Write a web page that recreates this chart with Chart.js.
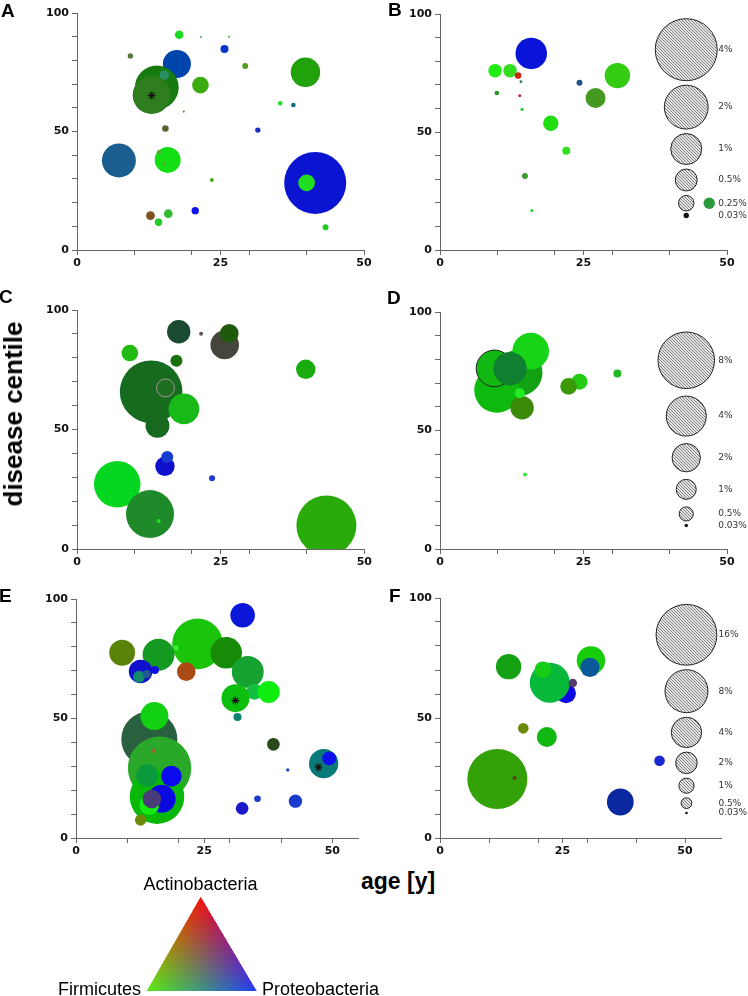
<!DOCTYPE html>
<html>
<head>
<meta charset="utf-8">
<script src="https://cdn.jsdelivr.net/npm/chart.js@4/dist/chart.umd.min.js"></script>
<style>
  body { margin: 0; background: #fff; width: 748px; height: 996px; position: relative; overflow: hidden; font-family: 'Liberation Sans', Arial, sans-serif; }
  canvas { position: absolute; }
  .lbl { position: absolute; line-height: 1; white-space: nowrap; color: #000; }
  .letter { font-weight: bold; font-size: 19px; }
</style>
</head>
<body>
<canvas id="cA" width="374" height="280" style="left:0;top:0"></canvas>
<canvas id="cB" width="374" height="280" style="left:374px;top:0"></canvas>
<canvas id="cC" width="374" height="285" style="left:0;top:290px"></canvas>
<canvas id="cD" width="374" height="285" style="left:374px;top:290px"></canvas>
<canvas id="cE" width="374" height="280" style="left:0;top:580px"></canvas>
<canvas id="cF" width="374" height="280" style="left:374px;top:580px"></canvas>
<canvas id="tri" width="122" height="104" style="left:140px;top:890px"></canvas>

<div class="lbl letter" style="left:1px;top:1px">A</div>
<div class="lbl letter" style="left:388px;top:0">B</div>
<div class="lbl letter" style="left:-1px;top:287px">C</div>
<div class="lbl letter" style="left:387px;top:288px">D</div>
<div class="lbl letter" style="left:-1px;top:586px">E</div>
<div class="lbl letter" style="left:389px;top:586px">F</div>
<div class="lbl" style="left:12.5px;top:414px;font-weight:bold;font-size:26px;transform:translate(-50%,-50%) rotate(-90deg)">disease centile</div>
<div class="lbl" style="left:361px;top:870px;font-weight:bold;font-size:23px">age [y]</div>
<div class="lbl" style="left:200.5px;top:875px;font-size:18px;transform:translateX(-50%)">Actinobacteria</div>
<div class="lbl" style="left:58px;top:980px;font-size:18px">Firmicutes</div>
<div class="lbl" style="left:262px;top:980px;font-size:18px">Proteobacteria</div>

<script>
// tick layout shared by all panels
const xTicks = [0, 10, 20, 25, 30, 40, 50];
const xLabels = [0, 25, 50];
const yLabels = [0, 50, 100];

// rows: [age, disease centile, relative abundance %, Actinobacteria %, Firmicutes %, Proteobacteria %]
const panelA = [
  [17.4, 78.5, 0.82, 0, 27, 67],
  [13.9, 68.6, 2.0, 9, 48, 6],
  [15.2, 73.8, 0.1, 16, 56, 38],
  [13.0, 65.4, 1.5, 18, 49, 12],
  [17.8, 90.8, 0.077, 12, 86, 12],
  [21.6, 89.9, 0.004, 15, 70, 15],
  [26.5, 90.0, 0.004, 20, 70, 10],
  [25.7, 84.8, 0.067, 4, 20, 80],
  [9.3, 81.9, 0.03, 33, 47, 20],
  [29.3, 77.6, 0.037, 33, 60, 13],
  [39.8, 75.0, 0.9, 13, 63, 4],
  [21.5, 69.6, 0.29, 23, 67, 6],
  [18.6, 58.4, 0.005, 47, 47, 13],
  [35.4, 61.9, 0.022, 13, 87, 13],
  [37.7, 61.2, 0.022, 7, 40, 53],
  [31.5, 50.6, 0.03, 7, 20, 73],
  [15.4, 51.3, 0.045, 33, 40, 20],
  [7.3, 37.8, 1.2, 10, 37, 56],
  [15.8, 38.0, 0.7, 7, 88, 7],
  [14.3, 41.2, 0.022, 33, 67, 20],
  [15.2, 36.6, 0.009, 40, 60, 27],
  [23.5, 29.5, 0.017, 33, 67, 13],
  [41.5, 28.3, 4.0, 4, 8, 82],
  [40.0, 28.3, 0.29, 13, 87, 13],
  [12.8, 14.5, 0.08, 48, 33, 13],
  [14.2, 11.7, 0.057, 13, 80, 13],
  [15.9, 15.3, 0.08, 20, 73, 20],
  [20.6, 16.6, 0.057, 7, 7, 93],
  [43.3, 9.6, 0.037, 13, 80, 13]
];
const starsA = [[13.0, 65.2]];

const panelB = [
  [15.9, 83.3, 1.03, 4, 8, 85],
  [9.6, 76.0, 0.19, 13, 93, 7],
  [12.2, 76.0, 0.19, 20, 87, 13],
  [13.6, 73.9, 0.045, 80, 16, 6],
  [14.1, 71.3, 0.009, 20, 53, 40],
  [9.9, 66.5, 0.022, 13, 60, 13],
  [13.9, 65.4, 0.009, 73, 13, 27],
  [14.3, 59.6, 0.012, 20, 80, 20],
  [19.3, 53.7, 0.245, 13, 87, 7],
  [22.0, 42.1, 0.067, 20, 88, 13],
  [14.8, 31.4, 0.037, 27, 60, 20],
  [16.0, 16.7, 0.012, 20, 80, 27],
  [24.3, 70.9, 0.037, 13, 33, 53],
  [27.1, 64.4, 0.42, 27, 60, 13],
  [30.9, 73.9, 0.67, 20, 80, 7]
];
const legendB = [4, 2, 1, 0.5, 0.25, 0.03];

const panelC = [
  [12.9, 65.8, 9.8, 9, 42, 12],
  [15.4, 67.4, 0.81, 12, 43, 12],
  [17.7, 90.9, 1.37, 10, 29, 19],
  [21.6, 90.1, 0.04, 40, 33, 33],
  [25.7, 85.4, 2.04, 27, 27, 23],
  [26.5, 90.2, 0.87, 12, 35, 4],
  [9.2, 82.0, 0.69, 13, 73, 7],
  [17.3, 78.8, 0.36, 10, 44, 4],
  [39.8, 75.2, 0.94, 10, 67, 6],
  [18.6, 58.6, 2.35, 9, 73, 9],
  [14.0, 51.6, 1.44, 9, 41, 12],
  [15.3, 34.6, 0.94, 6, 6, 80],
  [15.7, 38.5, 0.36, 10, 23, 82],
  [23.5, 29.6, 0.09, 10, 23, 80],
  [7.0, 27.1, 5.4, 2, 84, 12],
  [12.7, 14.6, 5.76, 12, 54, 16],
  [14.2, 11.7, 0.04, 13, 87, 13],
  [43.4, 9.8, 9.0, 16, 67, 4]
];

const panelD = [
  [13.8, 74.4, 5.4, 7, 63, 7],
  [15.8, 83.5, 3.36, 9, 83, 9],
  [9.9, 67.0, 5.1, 6, 73, 6],
  [9.5, 76.2, 3.36, 7, 72, 7],
  [12.2, 76.1, 2.8, 6, 50, 19],
  [14.3, 59.6, 1.37, 23, 54, 4],
  [13.9, 65.7, 0.25, 13, 93, 13],
  [24.3, 70.6, 0.64, 13, 80, 7],
  [22.4, 68.6, 0.69, 23, 60, 4],
  [30.9, 74.0, 0.16, 13, 73, 13],
  [14.8, 31.4, 0.04, 20, 93, 20]
];
const legendD = [8, 4, 2, 1, 0.5, 0.03];

const panelE = [
  [23.7, 81.2, 11.1, 10, 77, 4],
  [19.5, 79.5, 0.12, 20, 93, 20],
  [9.0, 77.5, 2.9, 35, 51, 3],
  [16.1, 76.7, 4.4, 8, 60, 13],
  [29.3, 77.5, 4.3, 9, 54, 3],
  [33.5, 69.5, 4.4, 9, 63, 19],
  [34.8, 61.2, 1.1, 7, 75, 25],
  [31.1, 58.5, 3.4, 6, 75, 6],
  [37.6, 61.1, 2.1, 6, 93, 6],
  [31.5, 50.6, 0.28, 6, 50, 44],
  [21.5, 69.6, 1.5, 67, 29, 8],
  [12.6, 69.7, 2.4, 6, 6, 80],
  [12.3, 67.5, 0.62, 7, 54, 42],
  [13.8, 68.6, 0.28, 12, 35, 56],
  [15.4, 70.3, 0.28, 6, 6, 87],
  [32.5, 93.2, 2.6, 4, 9, 85],
  [14.3, 41.3, 13.6, 16, 38, 25],
  [15.3, 51.0, 3.4, 7, 82, 7],
  [16.3, 29.2, 17.4, 16, 66, 16],
  [15.2, 36.5, 0.09, 60, 40, 20],
  [15.8, 17.3, 12.9, 4, 72, 4],
  [13.9, 26.1, 2.1, 4, 60, 23],
  [18.6, 25.9, 1.84, 4, 4, 93],
  [16.7, 16.4, 3.4, 4, 4, 88],
  [14.3, 13.8, 1.7, 7, 93, 7],
  [14.8, 16.3, 1.5, 29, 23, 48],
  [12.6, 7.5, 0.56, 42, 54, 4],
  [38.5, 39.2, 0.69, 16, 29, 10],
  [41.3, 28.5, 0.05, 16, 23, 80],
  [48.3, 31.1, 3.7, 4, 48, 47],
  [49.4, 33.3, 0.85, 6, 6, 93],
  [35.4, 16.4, 0.19, 10, 23, 80],
  [42.8, 15.4, 0.77, 10, 23, 80],
  [32.4, 12.4, 0.69, 10, 10, 80]
];
const starsE = [[31.1, 57.5], [47.3, 29.6]];

const panelF = [
  [14.0, 71.4, 2.8, 8, 63, 8],
  [25.7, 60.3, 1.73, 4, 4, 88],
  [22.4, 64.7, 6.9, 3, 72, 23],
  [21.0, 70.1, 1.2, 9, 80, 9],
  [27.1, 64.6, 0.32, 33, 23, 42],
  [30.8, 74.0, 3.5, 9, 80, 4],
  [30.6, 71.1, 1.6, 4, 35, 60],
  [17.0, 45.7, 0.49, 42, 54, 4],
  [21.8, 42.1, 1.73, 7, 72, 7],
  [11.7, 24.6, 15.6, 20, 63, 3],
  [15.2, 25.0, 0.07, 33, 27, 13],
  [36.8, 15.0, 3.1, 4, 16, 63],
  [44.8, 32.2, 0.49, 10, 16, 82]
];
const legendF = [16, 8, 4, 2, 1, 0.5, 0.03];

function mix(a, f, p) {
  return 'rgb(' + Math.round(a * 2.55) + ',' + Math.round(f * 2.55) + ',' + Math.round(p * 2.55) + ')';
}

function hatch(ctx) {
  const c = document.createElement('canvas');
  c.width = 3; c.height = 3;
  const g = c.getContext('2d');
  g.fillStyle = '#e6e6e6';
  g.fillRect(0, 0, 3, 3);
  g.fillStyle = '#808080';
  for (let i = 0; i < 3; i++) g.fillRect(i, i, 1, 1);
  return ctx.createPattern(c, 'repeat');
}

// hatched size key drawn inside the plot area
const sizeKey = {
  id: 'sizeKey',
  afterDatasetsDraw(chart, args, o) {
    if (!o || !o.levels) return;
    const ctx = chart.ctx;
    const cx = chart.scales.x.getPixelForValue(o.x);
    let y = chart.chartArea.top + o.top;
    ctx.save();
    ctx.font = '9px "DejaVu Sans"';
    ctx.textBaseline = 'middle';
    ctx.fillStyle = '#333';
    const pat = hatch(ctx);
    o.levels.forEach(p => {
      const r = o.k * Math.sqrt(p);
      let cy;
      if (p < 0.1) {
        cy = y - o.gap + 4.5;
        ctx.beginPath();
        ctx.arc(cx, cy, Math.max(r, 1.3), 0, Math.PI * 2);
        ctx.fillStyle = '#111';
        ctx.fill();
      } else {
        cy = y + r;
        ctx.beginPath();
        ctx.arc(cx, cy, r, 0, Math.PI * 2);
        ctx.fillStyle = pat;
        ctx.fill();
        ctx.lineWidth = 1;
        ctx.strokeStyle = '#222';
        ctx.stroke();
        y = cy + r + o.gap;
      }
      if (o.extra && o.extra.at === p) {
        ctx.beginPath();
        ctx.arc(cx + o.extra.dx, cy, o.k * Math.sqrt(o.extra.pct), 0, Math.PI * 2);
        ctx.fillStyle = mix(o.extra.comp[0], o.extra.comp[1], o.extra.comp[2]);
        ctx.fill();
      }
      ctx.fillStyle = '#333';
      ctx.fillText(p + '%', cx + 32, cy);
    });
    ctx.restore();
  }
};
Chart.register(sizeKey);

const tickFont = { family: 'DejaVu Sans', size: 11, weight: 'bold' };

function panel(id, rows, stars, o) {
  return new Chart(document.getElementById(id), {
    type: 'bubble',
    data: {
      datasets: [
        {
          data: stars.map(s => ({ x: s[0], y: s[1], r: 4 })),
          pointStyle: 'star',
          backgroundColor: 'rgba(0,0,0,0)',
          borderColor: '#111',
          borderWidth: 1.2,
          order: 0
        },
        {
          data: rows.map(d => ({ x: d[0], y: d[1], r: o.k * Math.sqrt(d[2]) })),
          backgroundColor: rows.map(d => mix(d[3], d[4], d[5])),
          borderColor: rows.map((d, i) => (o.rings && o.rings[i]) || 'rgba(0,0,0,0)'),
          borderWidth: rows.map((d, i) => (o.rings && o.rings[i]) ? 1 : 0),
          clip: { left: 60, top: 60, right: 60, bottom: 0 },
          order: 1
        }
      ]
    },
    options: {
      responsive: false,
      animation: false,
      events: [],
      layout: { autoPadding: false, padding: { left: 0, top: o.padT, right: o.padR, bottom: 0 } },
      plugins: {
        legend: { display: false },
        tooltip: { enabled: false },
        sizeKey: o.key || false
      },
      scales: {
        x: {
          type: 'linear',
          min: 0,
          max: o.xmax,
          afterBuildTicks: s => { s.ticks = xTicks.map(v => ({ value: v })); },
          afterFit: s => { s.height = o.xH; },
          grid: { drawOnChartArea: false, tickLength: 5, color: '#666' },
          border: { color: '#666' },
          ticks: {
            autoSkip: false, maxRotation: 0, padding: 2, color: '#111', font: tickFont,
            callback: v => xLabels.includes(v) ? v : ''
          }
        },
        y: {
          min: 0,
          max: 100,
          afterFit: s => { s.width = o.yW; },
          grid: { drawOnChartArea: false, tickLength: 5, color: '#666' },
          border: { color: '#666' },
          ticks: {
            stepSize: 10, padding: 3, color: '#111', font: tickFont,
            callback: v => yLabels.includes(v) ? v : ''
          }
        }
      }
    }
  });
}

panel('cA', panelA, starsA, { k: 15.5, xmax: 50, yW: 77, padR: 10, padT: 13, xH: 30 });
panel('cB', panelB, [], {
  k: 15.5, xmax: 50, yW: 66, padR: 21, padT: 14, xH: 30,
  key: { levels: legendB, k: 15.5, x: 42.9, top: 4.7, gap: 4.5, extra: { at: 0.25, dx: 23, pct: 0.135, comp: [16, 60, 23] } }
});
panel('cC', panelC, [], { k: 10, xmax: 50, yW: 77, padR: 8, padT: 20, xH: 26, rings: { 1: '#9a9a9a' } });
panel('cD', panelD, [], {
  k: 10, xmax: 50, yW: 66, padR: 21, padT: 22, xH: 26, rings: { 3: '#222' },
  key: { levels: legendD, k: 10, x: 42.9, top: 20, gap: 7.5 }
});
panel('cE', panelE, starsE, { k: 7.6, xmax: 55, yW: 76, padR: 16, padT: 19, xH: 22 });
panel('cF', panelF, [], {
  k: 7.6, xmax: 57.5, yW: 66, padR: 26.25, padT: 18, xH: 22,
  key: { levels: legendF, k: 7.6, x: 50.3, top: 6.4, gap: 4.5 }
});

// ternary colour key
(function () {
  const cv = document.getElementById('tri');
  const g = cv.getContext('2d');
  const w = cv.width, h = cv.height;
  const img = g.createImageData(w, h);
  const P = [[60.7, 6.7], [6.7, 101], [116.7, 101]];
  const C = [[245, 16, 16], [90, 235, 20], [35, 60, 245]];
  const det = (P[1][1] - P[2][1]) * (P[0][0] - P[2][0]) + (P[2][0] - P[1][0]) * (P[0][1] - P[2][1]);
  for (let y = 0; y < h; y++) {
    for (let x = 0; x < w; x++) {
      let cov = 0, col = [0, 0, 0];
      for (let sy = 0; sy < 2; sy++) for (let sx = 0; sx < 2; sx++) {
        const px = x + 0.25 + sx * 0.5, py = y + 0.25 + sy * 0.5;
        const l0 = ((P[1][1] - P[2][1]) * (px - P[2][0]) + (P[2][0] - P[1][0]) * (py - P[2][1])) / det;
        const l1 = ((P[2][1] - P[0][1]) * (px - P[2][0]) + (P[0][0] - P[2][0]) * (py - P[2][1])) / det;
        const l2 = 1 - l0 - l1;
        if (l0 >= 0 && l1 >= 0 && l2 >= 0) {
          cov++;
          for (let c = 0; c < 3; c++) col[c] += l0 * C[0][c] + l1 * C[1][c] + l2 * C[2][c];
        }
      }
      if (cov) {
        const i = (y * w + x) * 4;
        img.data[i] = col[0] / cov;
        img.data[i + 1] = col[1] / cov;
        img.data[i + 2] = col[2] / cov;
        img.data[i + 3] = 255 * cov / 4;
      }
    }
  }
  g.putImageData(img, 0, 0);
})();
</script>
</body>
</html>
